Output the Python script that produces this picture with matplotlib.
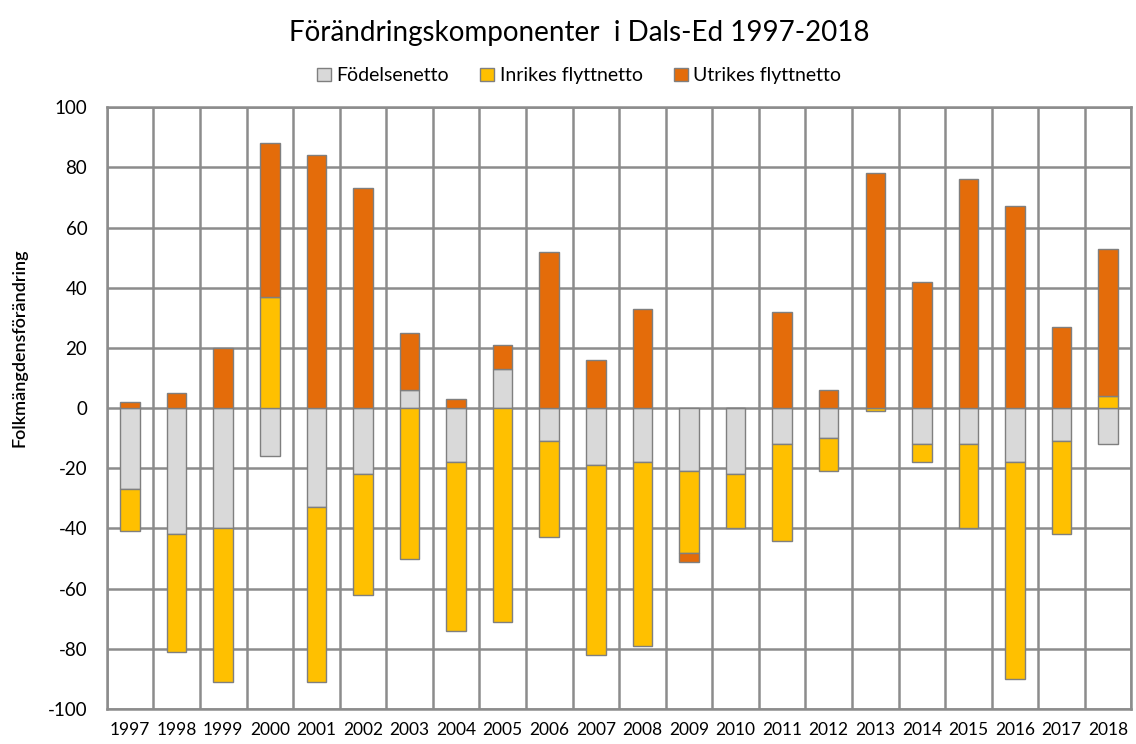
import numpy as np
import matplotlib.pyplot as plt

years = [str(y) for y in range(1997, 2019)]
fodelse = [-27, -42, -40, -16, -33, -22, 6, -18, 13, -11, -19, -18, -21, -22, -12, -10, 0, -12, -12, -18, -11, -12]
inrikes = [-14, -39, -51, 37, -58, -40, -50, -56, -71, -32, -63, -61, -27, -18, -32, -11, -1, -6, -28, -72, -31, 4]
utrikes = [2, 5, 20, 51, 84, 73, 19, 3, 8, 52, 16, 33, -3, 0, 32, 6, 78, 42, 76, 67, 27, 49]

labels = ["Födelsenetto", "Inrikes flyttnetto", "Utrikes flyttnetto"]
colors = ["#D9D9D9", "#FFC000", "#E46C0A"]

plt.rcParams['font.family'] = ['Lato', 'DejaVu Sans']
plt.rcParams['axes.unicode_minus'] = False

fig = plt.figure(figsize=(11.36, 7.44), dpi=100)
ax = fig.add_axes([0.094, 0.047, 0.902, 0.809])

x = np.arange(len(years))
pos = np.zeros(len(years))
neg = np.zeros(len(years))
for vals, lab, col in zip([fodelse, inrikes, utrikes], labels, colors):
    v = np.array(vals, dtype=float)
    bottom = np.where(v >= 0, pos, neg)
    ax.bar(x, v, 0.42, bottom=bottom, color=col, edgecolor="#7F7F7F",
           linewidth=1.0, label=lab, zorder=3)
    pos = pos + np.where(v >= 0, v, 0)
    neg = neg + np.where(v < 0, v, 0)

ax.set_xlim(-0.5, len(years) - 0.5)
ax.set_ylim(-100, 100)
ax.set_yticks(range(-100, 101, 20))
ax.set_xticks(x)
ax.set_xticklabels(years, fontsize=12.5)
ax.set_xticks(np.arange(-0.5, len(years), 1), minor=True)
ax.tick_params(axis='x', which='both', length=0, pad=9)
ax.tick_params(axis='y', length=0, labelsize=13.5, pad=14)
ax.grid(True, axis='y', which='major', color='#8C8C8C', linewidth=1.8, zorder=0)
ax.grid(True, axis='x', which='minor', color='#8C8C8C', linewidth=1.8, zorder=0)
for s in ax.spines.values():
    s.set_color('#8C8C8C')
    s.set_linewidth(1.8)

ax.set_ylabel("Folkmängdensförändring", fontsize=13, fontweight='semibold')
ax.yaxis.set_label_coords(-0.077, 0.6)

fig.text(0.51, 0.955, "Förändringskomponenter  i Dals-Ed 1997-2018",
         ha='center', va='center', fontsize=20)
fig.legend(loc='center', bbox_to_anchor=(0.51, 0.898), ncol=3, frameon=False,
           fontsize=14, handlelength=0.7, handleheight=0.7, columnspacing=1.6,
           handletextpad=0.3)

fig.savefig("out.png", dpi=100)
